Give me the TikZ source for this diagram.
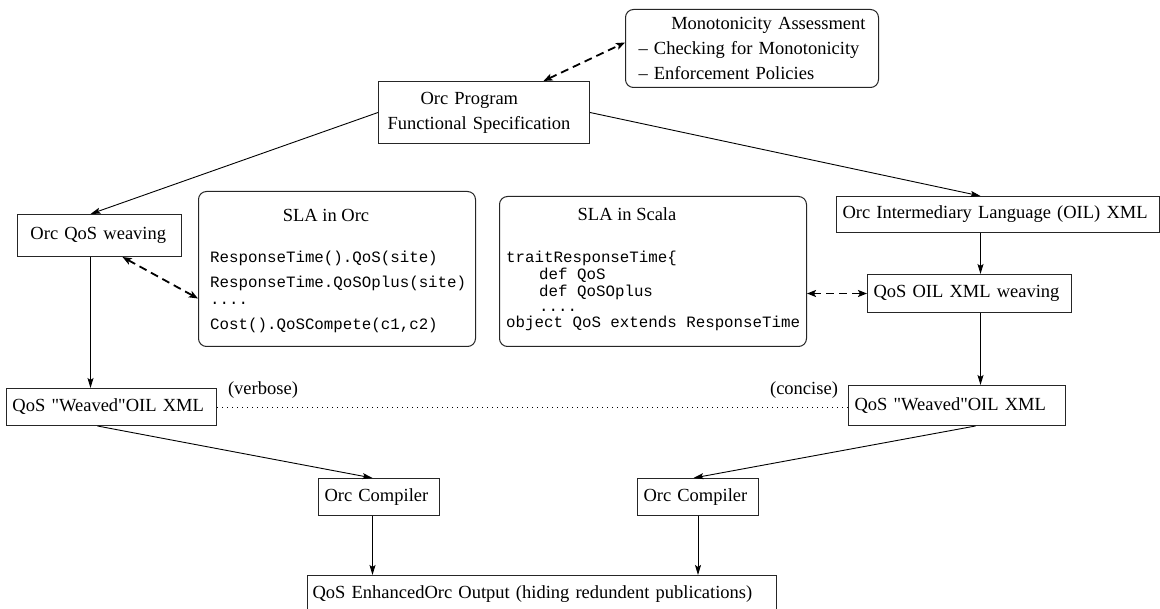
\documentclass[tikz,border=0pt]{standalone}
\usepackage{fontspec}
\setmainfont{Liberation Serif}[Ligatures=TeXOff]
\setmonofont{Liberation Mono}
\usetikzlibrary{arrows.meta,calc}
\newcommand\serifsz{\fontsize{18.5}{22}\selectfont}
\newcommand\serifml{\fontsize{18.5}{25}\selectfont}
\newcommand\codesz{\ttfamily\fontsize{15.8}{18}\selectfont}
\tikzset{
  box/.style={draw=black!85, line width=1pt, anchor=north west, inner xsep=6pt, inner ysep=0pt, align=left, font=\serifsz},
  rbox/.style={box, rounded corners=8pt},
  code/.style={anchor=base west, inner sep=0pt, font=\codesz},
  lbl/.style={inner sep=0pt, font=\serifsz},
  conn/.style={line width=0.9pt, -{Stealth[length=10pt,width=6pt,inset=2pt]}},
  dconn/.style={line width=1.8pt, dash pattern=on 8pt off 5pt, {Stealth[length=9pt,width=7pt,inset=2pt]}-{Stealth[length=9pt,width=7pt,inset=2pt]}},
  dotline/.style={line width=0.8pt, dash pattern=on 1pt off 4pt}
}
\begin{document}
\begin{tikzpicture}[x=1pt,y=-1pt]
\useasboundingbox (0,0) rectangle (1160,609);
\clip (0,0) rectangle (1160,609);
\fill[white] (0,0) rectangle (1160,609);

% boxes
\node[rbox, text width=227pt, inner xsep=13pt, minimum height=78pt, font=\serifml] (mono) at (625,9)
  {\hspace*{\fill}Monotonicity Assessment\hspace*{\fill}\\– Checking for Monotonicity\\– Enforcement Policies};
\node[box, text width=193pt, inner xsep=9pt, minimum height=62pt, font=\serifml] (prog) at (378,81)
  {\hspace*{33pt}Orc Program\\Functional Specification};
\node[box, text width=138pt, inner xsep=13pt, minimum height=42pt] (weave) at (17,214) {Orc QoS weaving};

\node[rbox, minimum width=277pt, minimum height=155pt] (slaorc) at (198,191) {};
\node[lbl] (slaorct) at (326,215) {SLA in Orc};
\node[code] (c1) at (210,263) {ResponseTime().QoS(site)};
\node[code] (c2) at (210,288) {ResponseTime.QoSOplus(site)};
\node[code] (c3) at (210,305) {....};
\node[code] (c4) at (210,330) {Cost().QoSCompete(c1,c2)};

\node[rbox, minimum width=307pt, minimum height=150pt] (slasc) at (499,196) {};
\node[lbl] (slasct) at (627,214) {SLA in Scala};
\node[code] (s1) at (506,263) {traitResponseTime\{};
\node[code] (s2) at (539,280) {def QoS};
\node[code] (s3) at (539,297) {def QoSOplus};
\node[code] (s4) at (539,312) {....};
\node[code] (s5) at (506,328) {object QoS extends ResponseTime};

\node[box, text width=311pt, minimum height=36pt] (oil) at (836,196) {Orc Intermediary Language (OIL) XML};
\node[box, text width=192pt, minimum height=38pt] (oilw) at (867,274) {QoS OIL XML weaving};
\node[box, text width=198pt, minimum height=37pt] (wl) at (6,388) {QoS "Weaved"OIL XML};
\node[box, text width=205pt, minimum height=40pt] (wr) at (848,385) {QoS "Weaved"OIL XML};
\node[box, text width=109pt, minimum height=37pt] (cl) at (318,478) {Orc Compiler};
\node[box, text width=109pt, minimum height=37pt] (cr) at (637,478) {Orc Compiler};
\node[box, text width=459pt, inner xsep=5pt, minimum height=37pt] (out) at (307,575)
  {QoS EnhancedOrc Output (hiding redundent publications)};
\node[lbl] (verb) at (263,390) {(verbose)};
\node[lbl] (conc) at (804,390) {(concise)};

% connectors
\draw[conn] (prog.west) -- ([xshift=-9pt]weave.north);
\draw[conn] (prog.east) -- ([xshift=-17.5pt]oil.north);
\draw[conn] ([xshift=-17.5pt]oil.south) -- ([xshift=-17.5pt]oil.south |- oilw.north);
\draw[conn] ([xshift=-17.5pt]oil.south |- oilw.south) -- ([xshift=-17.5pt]oil.south |- wr.north);
\draw[conn] ([xshift=-9pt]weave.south) -- ([xshift=-9pt]weave.south |- wl.north);
\draw[dconn] ([xshift=23pt]weave.south) -- ([yshift=-29.5pt]slaorc.west);
\draw[dconn] (slasc.east |- oilw.west) -- (oilw.west);
\draw[dconn] ([xshift=59.5pt]prog.north) -- ([yshift=6pt]mono.west);
\draw[dotline] (wl.east) -- (wl.east -| wr.west);
\draw[conn] ([xshift=-14pt]wl.south) -- ([xshift=-6.5pt]cl.north);
\draw[conn] ([xshift=18.5pt]wr.south) -- ([xshift=-4.5pt]cr.north);
\draw[conn] ([xshift=-6.5pt]cl.south) -- ([xshift=-6.5pt]cl.south |- out.north);
\draw[conn] (cr.south) -- (cr.south |- out.north);
\end{tikzpicture}
\end{document}
